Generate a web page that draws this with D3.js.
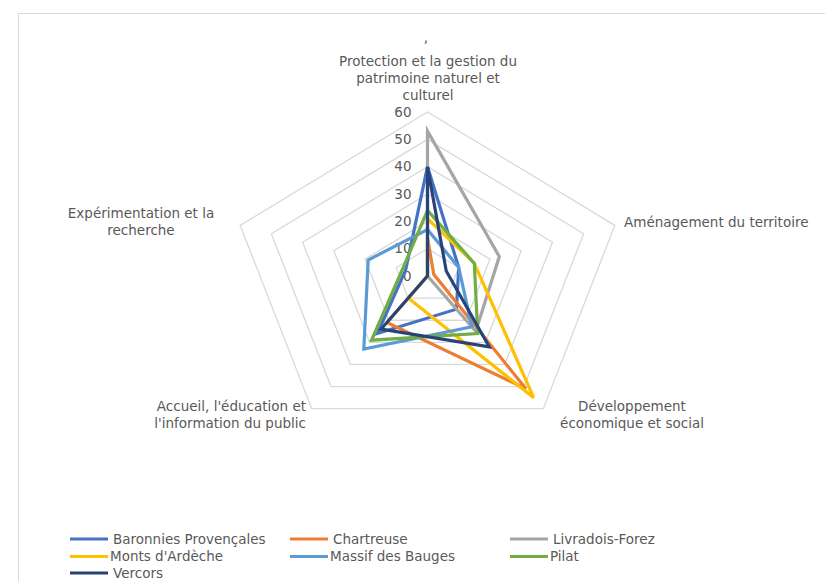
<!DOCTYPE html>
<html>
<head>
<meta charset="utf-8">
<script src="https://cdn.jsdelivr.net/npm/d3@7"></script>
<style>
  html, body { margin: 0; padding: 0; background: #ffffff; }
  svg { display: block; }
  text { font-family: "DejaVu Sans", "Open Sans", sans-serif; fill: #595959; }
</style>
</head>
<body>
<div id="chart"></div>
<script>
// Axes of the radar, clockwise from the top
const axes = [
  ["Protection et la gestion du", "patrimoine naturel et", "culturel"],
  ["Aménagement du territoire"],
  ["Développement", "économique et social"],
  ["Accueil, l'éducation et", "l'information du public"],
  ["Expérimentation et la", "recherche"]
];

// Parks and their scores on each axis (same order as axes)
const seriesNames = [
  "Baronnies Provençales", "Chartreuse", "Livradois-Forez",
  "Monts d'Ardèche", "Massif des Bauges", "Pilat", "Vercors"
];
const baronnies = [40, 10, 15, 26, 7];
const chartreuse = [14, 2, 51, 21, 0];
const livradois = [53, 23, 25, 0, 0];
const montsArdeche = [21, 15, 55, 10, 0];
const bauges = [17, 10, 23, 33, 19];
const pilat = [24, 15, 26, 29, 8];
const vercors = [40, 6, 32, 24, 0];
const seriesValues = [baronnies, chartreuse, livradois, montsArdeche, bauges, pilat, vercors];
const seriesColors = ["#4472C4", "#ED7D31", "#A5A5A5", "#FFC000", "#5B9BD5", "#70AD47", "#264478"];

const tickValues = [0, 10, 20, 30, 40, 50, 60];

const W = 825, H = 581;
const cx = 427.5, cy = 276;
const Rx = 197, Ry = 164;
const fontSize = 13.5;

const svg = d3.select("#chart").append("svg")
  .attr("width", W).attr("height", H);

// chart frame
svg.append("rect")
  .attr("x", 18.5).attr("y", 13.5)
  .attr("width", 820).attr("height", 600)
  .attr("fill", "#fff").attr("stroke", "#d9d9d9").attr("stroke-width", 1);

const r = d3.scaleLinear().domain([0, 60]).range([0, 1]);
const angle = d3.scaleLinear().domain([0, axes.length]).range([-Math.PI / 2, 1.5 * Math.PI]);

const px = (i, v) => cx + Rx * r(v) * Math.cos(angle(i));
const py = (i, v) => cy + Ry * r(v) * Math.sin(angle(i));

const ring = d3.line()
  .x(d => px(d.i, d.v)).y(d => py(d.i, d.v))
  .curve(d3.curveLinearClosed);

// grid rings
svg.append("g").selectAll("path")
  .data(tickValues.filter(t => t > 0))
  .join("path")
  .attr("d", t => ring(axes.map((_, i) => ({ i, v: t }))))
  .attr("fill", "none").attr("stroke", "#d9d9d9").attr("stroke-width", 1.3);

// value labels along the top axis
svg.append("g").selectAll("text")
  .data(tickValues)
  .join("text")
  .attr("x", cx - 16)
  .attr("y", t => py(0, t))
  .attr("dy", "0.35em")
  .attr("text-anchor", "end")
  .attr("font-size", fontSize)
  .text(t => t);

// series polygons
svg.append("g").selectAll("path")
  .data(seriesValues)
  .join("path")
  .attr("d", vals => ring(vals.map((v, i) => ({ i, v }))))
  .attr("fill", "none")
  .attr("stroke", (_, k) => seriesColors[k])
  .attr("stroke-width", 3.2)
  .attr("stroke-linejoin", "miter");

// axis category labels
const labelPos = [
  { x: 428, y: 61.5, anchor: "middle" },
  { x: 624, y: 222, anchor: "start" },
  { x: 632, y: 406, anchor: "middle" },
  { x: 306, y: 406, anchor: "end" },
  { x: 141, y: 213, anchor: "middle" }
];
const lineH = 16.8;
const catG = svg.append("g");
axes.forEach((lines, i) => {
  const t = catG.append("text")
    .attr("text-anchor", labelPos[i].anchor)
    .attr("font-size", fontSize);
  lines.forEach((s, j) => {
    t.append("tspan")
      .attr("x", labelPos[i].x)
      .attr("y", labelPos[i].y + j * lineH)
      .attr("dy", "0.35em")
      .text(s);
  });
});
svg.append("text")
  .attr("x", 426).attr("y", 42)
  .attr("text-anchor", "middle").attr("font-size", fontSize)
  .text(",");

// legend
const legendItems = [
  { k: 0, x: 70, y: 539, gap: 5 },
  { k: 1, x: 290, y: 539, gap: 5 },
  { k: 2, x: 510, y: 539, gap: 5 },
  { k: 3, x: 70, y: 556.5, gap: 2 },
  { k: 4, x: 290, y: 556.5, gap: 2 },
  { k: 5, x: 510, y: 556.5, gap: 2 },
  { k: 6, x: 70, y: 573, gap: 5 }
];
const lg = svg.append("g");
legendItems.forEach(it => {
  lg.append("line")
    .attr("x1", it.x).attr("x2", it.x + 38)
    .attr("y1", it.y).attr("y2", it.y)
    .attr("stroke", seriesColors[it.k]).attr("stroke-width", 3.2);
  lg.append("text")
    .attr("x", it.x + 38 + it.gap).attr("y", it.y)
    .attr("dy", "0.35em").attr("font-size", fontSize)
    .text(seriesNames[it.k]);
});
</script>
</body>
</html>
